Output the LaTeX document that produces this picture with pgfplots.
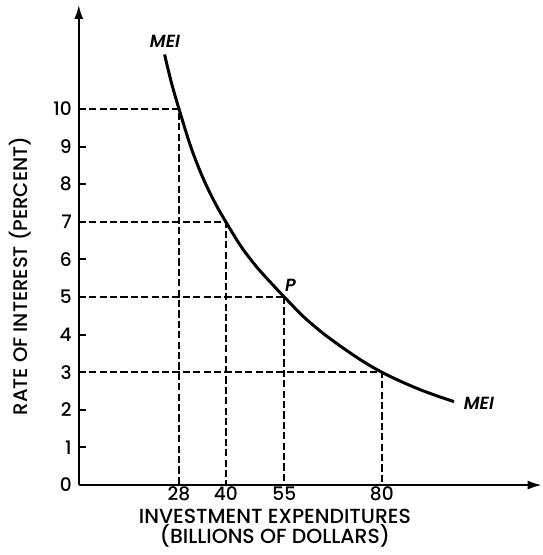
\documentclass[border=0pt]{standalone}
\usepackage{pgfplots}
\pgfplotsset{compat=1.18}
\usetikzlibrary{arrows.meta}
\usepackage{fontspec}
\setmainfont{Poppins}[UprightFont={* Medium}, BoldFont={* SemiBold}, ItalicFont={* Medium Italic}, BoldItalicFont={* SemiBold Italic}]
\begin{document}
\begin{tikzpicture}
\begin{axis}[
  x=1.95pt, y=18.8pt,
  xmin=2.3, xmax=121, ymin=0, ymax=12.77,
  axis x line*=bottom, axis y line*=left,
  axis line style={line width=1pt, -{Latex[length=7pt,width=4.5pt]}},
  clip=false,
  xtick={28,40,55,80},
  ytick={0,1,2,3,4,5,6,7,8,9,10},
  x tick style={draw=none},
  y tick style={line width=1pt, black},
  tick align=inside,
  major tick length=3.8pt,
  /pgf/number format/assume math mode=true,
  ticklabel style={font=\fontsize{9.3}{11}\selectfont},
  xticklabel style={inner sep=1pt, yshift=0.5pt},
]
\addplot[line width=0.9pt, dash pattern=on 3.6pt off 1.6pt] coordinates {(2.3,10) (28,10) (28,0)};
\addplot[line width=0.9pt, dash pattern=on 3.6pt off 1.6pt] coordinates {(2.3,7) (40,7) (40,0)};
\addplot[line width=1.3pt, dash pattern=on 3.6pt off 1.6pt] coordinates {(2.3,5) (55,5)};
\addplot[line width=0.9pt, dash pattern=on 3.6pt off 1.6pt] coordinates {(55,5) (55,0)};
\addplot[line width=0.9pt, dash pattern=on 3.6pt off 1.6pt] coordinates {(2.3,3) (80,3) (80,0)};
\addplot[line width=1.5pt, smooth] coordinates {(24.3,11.45) (26,10.72) (28,10) (31,9.0) (34,8.2) (37,7.55) (40,7) (44,6.33) (48,5.79) (52,5.33) (55,5) (60,4.47) (65,4.03) (70,3.65) (75,3.3) (80,3) (85,2.75) (90,2.53) (95,2.34) (98.5,2.22)};
\node[font=\fontsize{8.8}{9}\selectfont\bfseries\itshape] at (axis cs:24.4,11.79) {MEI};
\node[font=\fontsize{8.8}{9}\selectfont\bfseries\itshape] at (axis cs:104.9,2.18) {MEI};
\node[font=\fontsize{8.8}{9}\selectfont\bfseries\itshape] at (axis cs:56.6,5.32) {P};
\node[rotate=90, font=\fontsize{9.8}{11}\selectfont] at (axis cs:-12.8,5.56) {RATE OF INTEREST (PERCENT)};
\node[font=\fontsize{10.2}{10}\selectfont, align=center, inner sep=0pt] at (axis cs:52.6,-1.14) {INVESTMENT EXPENDITURES\\(BILLIONS OF DOLLARS)};
\path (axis cs:-17.9,-1.86) rectangle (axis cs:121.3,12.9);
\end{axis}
\end{tikzpicture}
\end{document}
